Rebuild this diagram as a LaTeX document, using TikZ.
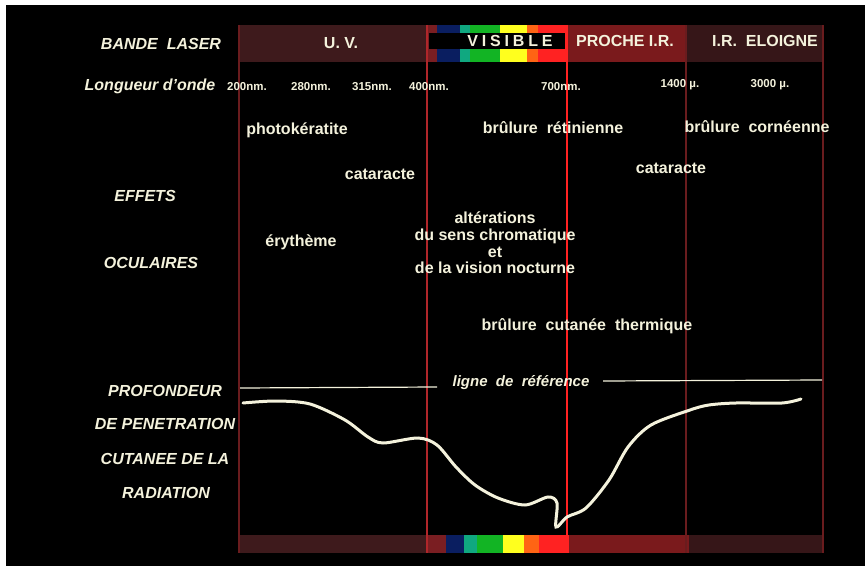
\documentclass[tikz,border=0pt]{standalone}
\usepackage{fontspec}
\setmainfont{Liberation Sans}
\definecolor{uvband}{HTML}{3E1A1C}
\definecolor{nirband}{HTML}{7A1A1C}
\definecolor{firband}{HTML}{361618}
\definecolor{violetstrip}{HTML}{7A1E22}
\definecolor{bnavy}{HTML}{0A1E60}
\definecolor{bteal}{HTML}{10A880}
\definecolor{bgreen}{HTML}{12B424}
\definecolor{byellow}{HTML}{FFFF1E}
\definecolor{borange}{HTML}{FF6414}
\definecolor{bred}{HTML}{FF2222}
\definecolor{darkline}{HTML}{6A1C1E}
\definecolor{midline}{HTML}{B0262A}
\definecolor{cream}{HTML}{F4F2DC}
\tikzset{
  txt/.style={text=cream, inner sep=0pt, font=\fontsize{16}{18}\selectfont\bfseries},
  side/.style={txt, font=\fontsize{16}{18}\selectfont\bfseries\itshape},
  wave/.style={txt, font=\fontsize{11.5}{13}\selectfont\bfseries},
  bandtxt/.style={txt, font=\fontsize{16}{18}\selectfont\bfseries}
}
\begin{document}
\begin{tikzpicture}[x=1pt, y=-1pt]
    \useasboundingbox (0,0) rectangle (865,572);
    \fill[white] (0,0) rectangle (865,572);
    \fill[black] (6,5) rectangle (865,566);

    \fill[uvband] (239,25) rectangle (427,62);
    \fill[violetstrip] (427,25) rectangle (437,62);
    \fill[bnavy] (437,25) rectangle (460,62);
    \fill[bteal] (460,25) rectangle (470,62);
    \fill[bgreen] (470,25) rectangle (500,62);
    \fill[byellow] (500,25) rectangle (527,62);
    \fill[borange] (527,25) rectangle (538,62);
    \fill[bred] (538,25) rectangle (567,62);
    \fill[nirband] (567,25) rectangle (686,62);
    \fill[firband] (686,25) rectangle (823,62);
    \fill[black] (429,33) rectangle (565,49);

    \fill[uvband] (239,535) rectangle (427,553);
    \fill[violetstrip] (427,535) rectangle (446,553);
    \fill[bnavy] (446,535) rectangle (464,553);
    \fill[bteal] (464,535) rectangle (477,553);
    \fill[bgreen] (477,535) rectangle (503,553);
    \fill[byellow] (503,535) rectangle (524,553);
    \fill[borange] (524,535) rectangle (539,553);
    \fill[bred] (539,535) rectangle (569,553);
    \fill[nirband] (569,535) rectangle (689,553);
    \fill[firband] (689,535) rectangle (823,553);

    \draw[darkline, line width=1.5] (239,25) -- (239,553);
    \draw[midline, line width=1.5] (427,25) -- (427,553);
    \draw[bred, line width=2] (567,25) -- (567,553);
    \draw[darkline, line width=1.5] (686,25) -- (686,553);
    \draw[darkline, line width=2] (823,25) -- (823,553);

    \node[side] (bande) at (161,44) {BANDE\ \ LASER};
    \node[bandtxt] (uv) at (341,43) {U. V.};
    \node[bandtxt, font=\fontsize{16}{18}\selectfont\bfseries\addfontfeatures{LetterSpace=24}] (visible) at (510,41) {VISIBLE};
    \node[bandtxt] (proche) at (625,41) {PROCHE\ I.R.};
    \node[bandtxt] (eloigne) at (765,41) {I.R.\ \ ELOIGNE};

    \node[side] (longueur) at (150,86) {Longueur d'onde};
    \node[wave] (w200) at (247,87) {200nm.};
    \node[wave] (w280) at (311,87) {280nm.};
    \node[wave] (w315) at (372,87) {315nm.};
    \node[wave] (w400) at (429,87) {400nm.};
    \node[wave] (w700) at (561,87) {700nm.};
    \node[wave] (w1400) at (680,85) {1400 µ.};
    \node[wave] (w3000) at (770,85) {3000 µ.};

    \node[side] (effets) at (145,196) {EFFETS};
    \node[side] (oculaires) at (151,263) {OCULAIRES};
    \node[side] (profondeur) at (165,391) {PROFONDEUR};
    \node[side] (penetration) at (165,424) {DE PENETRATION};
    \node[side] (cutanee) at (165,459) {CUTANEE DE LA};
    \node[side] (radiation) at (166,493) {RADIATION};

    \node[txt] (photo) at (297,130) {photokératite};
    \node[txt] (retine) at (553,128) {brûlure\ \ rétinienne};
    \node[txt] (cornee) at (757,127) {brûlure\ \ cornéenne};
    \node[txt] (catuv) at (380,174) {cataracte};
    \node[txt] (catir) at (671,168) {cataracte};
    \node[txt, align=center, font=\fontsize{16}{16.7}\selectfont\bfseries] (alter) at (495,243) {altérations\\du sens chromatique\\et\\de la vision nocturne};
    \node[txt] (erytheme) at (301,242) {érythème};
    \node[txt] (thermique) at (587,326) {brûlure\ \ cutanée\ \ thermique};

    \node[side, font=\fontsize{15}{17}\selectfont\bfseries\itshape] (reflbl) at (521,383) {ligne\ \ de\ \ référence};
    \coordinate (refL) at (240,388);
    \coordinate (refR) at (822,380);
    \draw[cream, line width=1.2] (refL) -- (437,387);
    \draw[cream, line width=1.2] (603,381) -- (refR);

    \draw[cream, line width=3, line cap=round] plot[smooth, tension=0.5] coordinates {
        (243,403) (276,401) (310,404) (345,420) (368,437) (383,443) (418,438)
        (437,445) (456,467) (475,485) (498,498) (525,505) (548,497) (557,503)
        (556,527) (567,517) (586,508) (609,480) (628,447) (651,425) (690,410)
        (709,405) (736,403) (782,403) (801,399)};
\end{tikzpicture}
\end{document}
